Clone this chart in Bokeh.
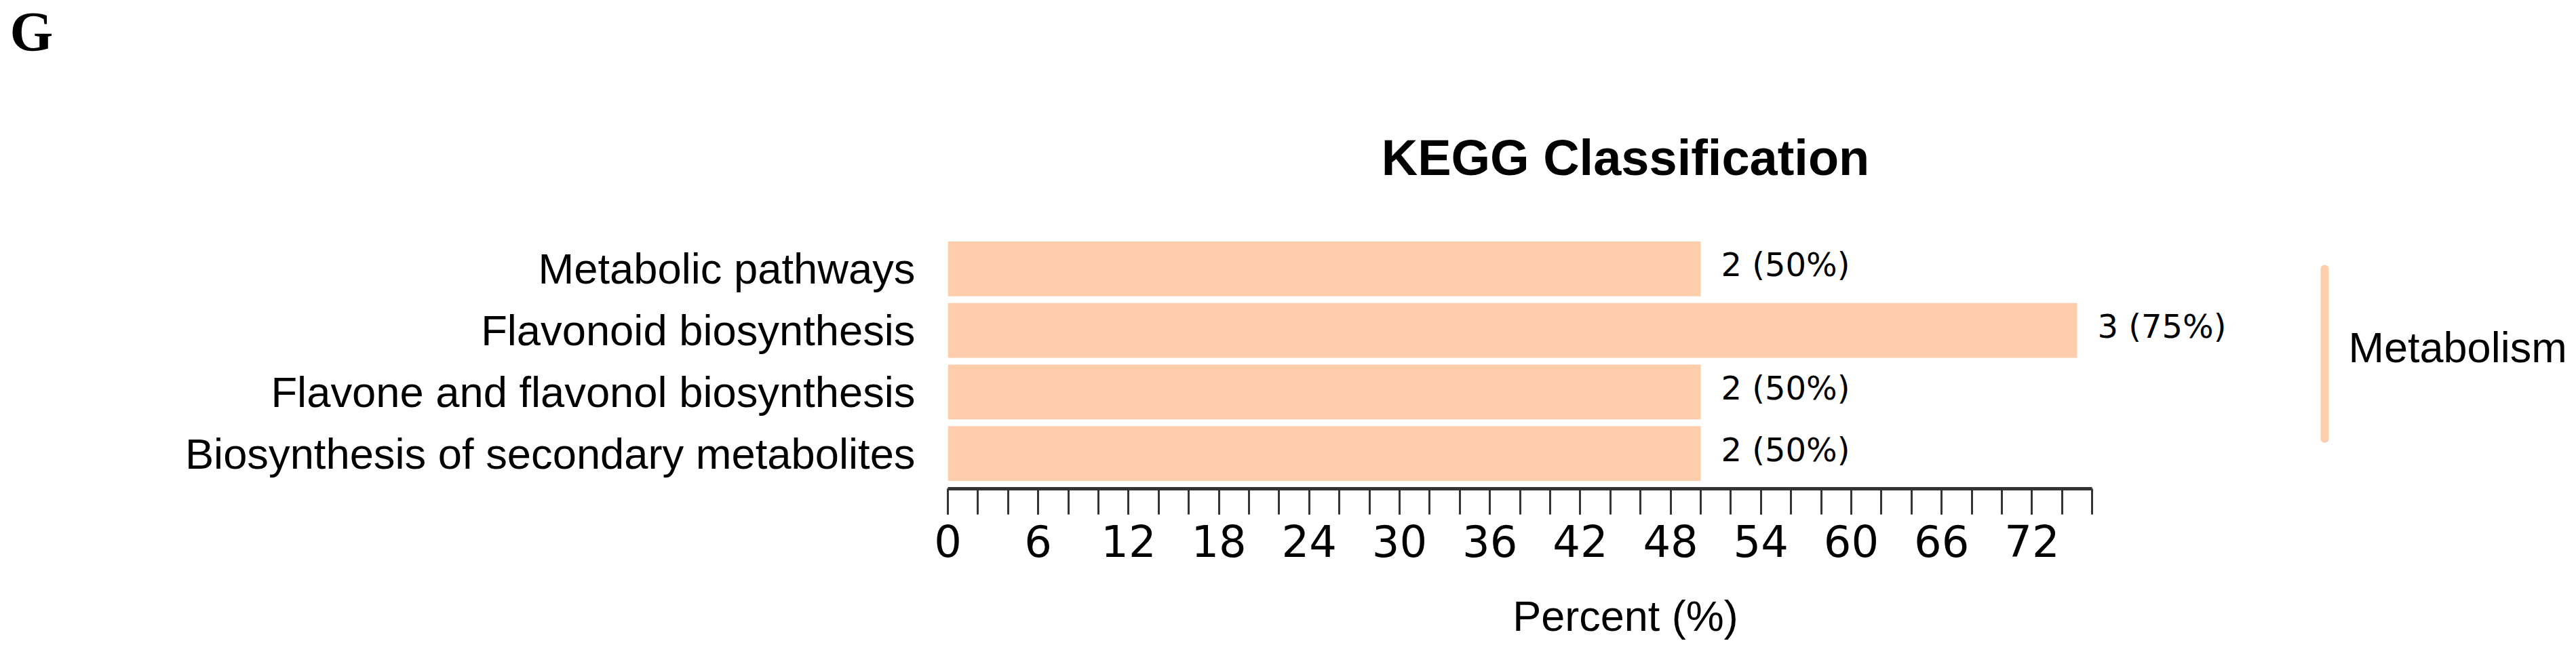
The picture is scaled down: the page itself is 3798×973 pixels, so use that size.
from bokeh.plotting import figure
from bokeh.models import Range1d, LinearAxis, FixedTicker, ColumnDataSource, Label
from bokeh.layouts import row
from bokeh.embed import file_html
from bokeh.resources import INLINE
from bokeh.core.properties import value

# ---------------- data ----------------
categories = [
    "Metabolic pathways",
    "Flavonoid biosynthesis",
    "Flavone and flavonol biosynthesis",
    "Biosynthesis of secondary metabolites",
]
counts = [2, 3, 2, 2]
percents = [50, 75, 50, 50]
group_name = "Metabolism"
x_major_ticks = [0, 6, 12, 18, 24, 30, 36, 42, 48, 54, 60, 66, 72]
x_minor_ticks = list(range(0, 77, 2))
title_text = "KEGG Classification"
x_label = "Percent (%)"
panel_letter = "G"

# ---------------- style ----------------
BAR_COLOR = "#fdcdac"
AXIS_COLOR = "#333333"
SANS = "Liberation Sans"
TICK_FONT = "DejaVu Sans"

pos = list(range(len(categories)))
labels = [f"{c} ({p}%)" for c, p in zip(counts, percents)]
src = ColumnDataSource(dict(y=pos, pct=percents, label=labels))

H = 965
TOP = 351
BOTTOM = 245

# ---------------- main bar chart ----------------
p = figure(width=3395, height=H,
           x_range=Range1d(0, 90), y_range=Range1d(3.573, -0.496),
           output_backend="svg", toolbar_location=None,
           min_border_left=1397, min_border_right=0,
           min_border_top=TOP, min_border_bottom=BOTTOM)
p.outline_line_color = None
p.xgrid.visible = False
p.ygrid.visible = False

p.title.text = title_text
p.title.align = "center"
p.title.text_font = SANS
p.title.text_font_size = "74px"
p.title.text_font_style = "bold"
p.title.text_color = "black"
p.title.standoff = 155

p.hbar(y="y", left=0, right="pct", height=0.89, source=src,
       fill_color=BAR_COLOR, line_color=None)
p.text(x="pct", y="y", text="label", source=src,
       x_offset=30, y_offset=-6, text_align="left", text_baseline="alphabetic",
       text_font=value(TICK_FONT), text_font_size="48px", text_color="black")

xa = p.xaxis[0]
xa.ticker = FixedTicker(ticks=x_major_ticks, minor_ticks=x_minor_ticks)
xa.bounds = (0, 76)
xa.axis_line_color = AXIS_COLOR
xa.axis_line_width = 5
xa.major_tick_line_color = AXIS_COLOR
xa.major_tick_line_width = 3
xa.major_tick_in = 0
xa.major_tick_out = 38
xa.minor_tick_line_color = AXIS_COLOR
xa.minor_tick_line_width = 3
xa.minor_tick_in = 0
xa.minor_tick_out = 38
xa.major_label_text_font = TICK_FONT
xa.major_label_text_font_size = "64px"
xa.major_label_text_color = "black"
xa.major_label_standoff = 15

xa2 = LinearAxis(ticker=FixedTicker(ticks=[]), axis_label=x_label)
xa2.axis_line_color = None
xa2.major_tick_line_color = None
xa2.minor_tick_line_color = None
xa2.major_tick_out = 0
xa2.major_label_text_font_size = "1px"
xa2.axis_label_text_font = SANS
xa2.axis_label_text_font_size = "63px"
xa2.axis_label_text_font_style = "normal"
xa2.axis_label_text_color = "black"
xa2.axis_label_standoff = 49
p.add_layout(xa2, "below")

ya = p.yaxis[0]
ya.ticker = FixedTicker(ticks=pos)
ya.major_label_overrides = {i: c for i, c in zip(pos, categories)}
ya.axis_line_color = None
ya.major_tick_line_color = None
ya.minor_tick_line_color = None
ya.major_tick_out = 0
ya.major_tick_in = 0
ya.major_label_standoff = 48
ya.major_label_text_font = SANS
ya.major_label_text_font_size = "63.3px"
ya.major_label_text_color = "black"

# panel letter, placed in a side panel so it is not clipped to the frame
p.add_layout(Label(x=-62.3, y=-3.856, text=panel_letter,
                   text_font="Liberation Serif", text_font_style="bold",
                   text_font_size="82px", text_align="left", text_baseline="middle",
                   text_color="black"), "left")

# ---------------- right side group bracket ----------------
q = figure(width=395, height=H, x_range=Range1d(0, 395), y_range=p.y_range,
           output_backend="svg", toolbar_location=None,
           min_border_left=0, min_border_right=0,
           min_border_top=TOP, min_border_bottom=BOTTOM,
           x_axis_location=None, y_axis_location=None)
q.outline_line_color = None
q.grid.visible = False

y0 = pos[0]
y1 = pos[-1] - 0.24
q.segment(x0=[32], y0=[y0], x1=[32], y1=[y1], line_color=BAR_COLOR,
          line_width=12, line_cap="round")
q.text(x=[67], y=[(y0 + y1) / 2], text=[group_name], y_offset=-10,
       text_align="left", text_baseline="alphabetic",
       text_font=value(SANS), text_font_size="63px", text_color="black")

layout = row(p, q)
open("out.html", "w").write(file_html(layout, INLINE))
